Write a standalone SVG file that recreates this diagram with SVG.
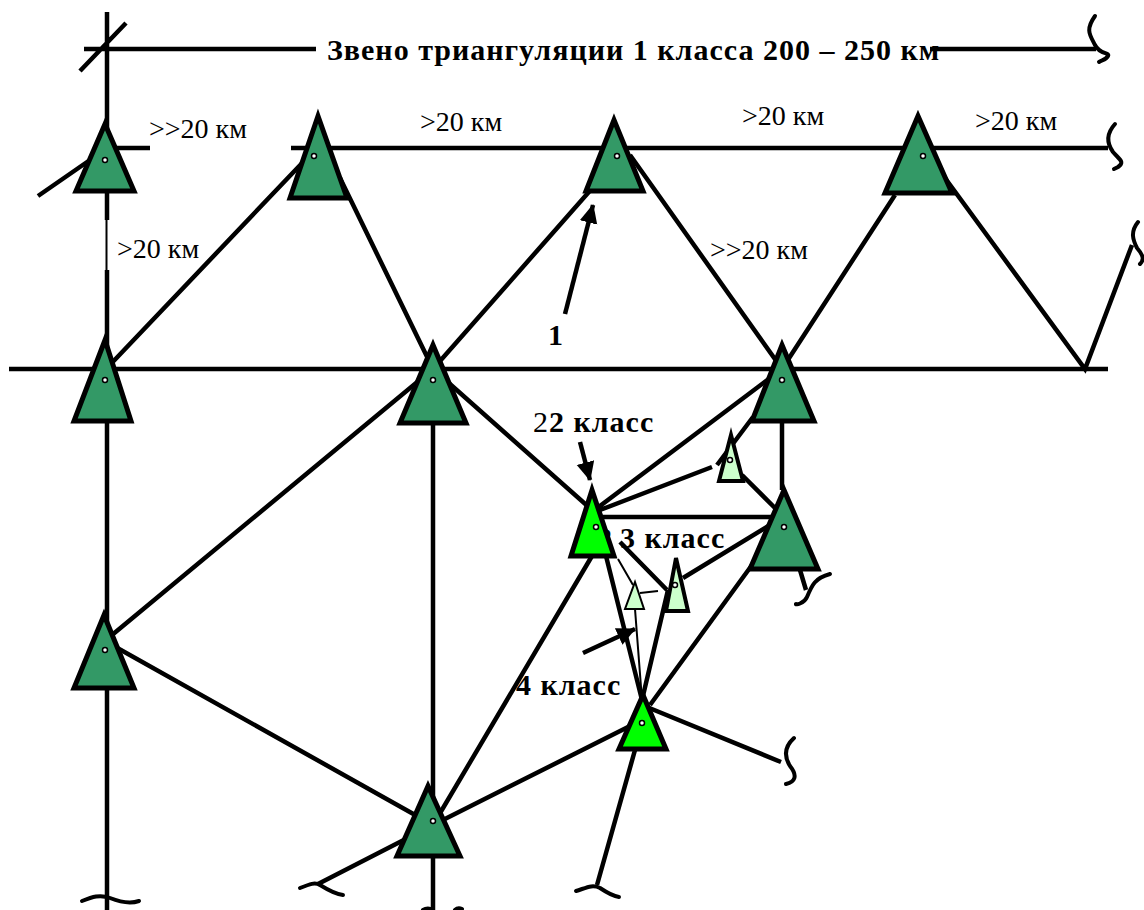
<svg xmlns="http://www.w3.org/2000/svg" width="1144" height="910" viewBox="0 0 1144 910">
<style>
.l{stroke:#000;stroke-width:4.500;fill:none}
.t{stroke:#000;stroke-width:2;fill:none}
.s{stroke:#000;stroke-width:4;fill:none;stroke-linecap:round}
.dk{fill:#339966;stroke:#000;stroke-width:5;stroke-linejoin:miter}
.br{fill:#00ff00;stroke:#000;stroke-width:5}
.lt{fill:#ccffcc;stroke:#000;stroke-width:4}
.dot{fill:#fff;stroke:#000;stroke-width:1.500}
text{font-family:"Liberation Serif","Times New Roman",serif;fill:#000}
.n{font-size:28px}
.b{font-size:30px;font-weight:bold;letter-spacing:1px}
</style>
<defs><marker id="a" markerWidth="22" markerHeight="22" refX="18" refY="9" orient="auto" markerUnits="userSpaceOnUse"><path d="M0 0L19 9L0 18z" fill="#000"/></marker></defs>
<g id="connectors">
<path class="l" d="M107 12V220M107 270V910M84 49H316M930 49H1096M80 71L126 23M116 148H150M291 148H1108M9 369H1108"/>
<path class="t" d="M106.500 220V270"/>
<path class="l" d="M38 196L90 160M107 368L305 160M340 178L433 369M433 369L595 185M630 155L782 369M782 369L895 195M945 178L1085 369L1132 245"/>
<path class="l" d="M112 635L433 369M433 369L592 510M782 369L592 512M433 369V910M782 369V490M592 517H784M600 510L712 467M717 465L753 417M742 475L775 508M683 578L770 525M620 542L667 590"/>
<path class="t" d="M618 559L633 585M640 593L658 591M635 609L642 700"/>
<path class="l" d="M668 590L642 700M606 556L642 700M752 565L650 705M433 825L642 720M592 556L433 825M112 645L433 825M433 825L318 884M635 750L597 885M642 705L781 762M800 570L806 590"/>
<path class="s" d="M1095 16C1085 30 1090 35 1095 45C1100 55 1110 52 1108 56C1106 60 1102 60 1099 62"/>
<path class="s" d="M1115 124C1105 135 1108 145 1113 152C1120 160 1125 162 1118 167L1114 169"/>
<path class="s" d="M1138 222C1130 232 1133 240 1137 248C1144 256 1144 260 1140 264"/>
<path class="s" d="M830 574C815 578 812 585 807 597C804 604 795 605 796 604"/>
<path class="s" d="M794 738C783 748 785 758 790 766C798 776 795 782 786 784"/>
<path class="s" d="M300 888C310 884 315 882 320 885C328 890 335 894 343 895"/>
<path class="s" d="M576 891C586 888 592 884 600 888C606 892 612 896 619 897"/>
<path class="s" d="M82 901C92 897 100 894 110 898C120 902 130 904 139 901"/>
<path class="s" d="M423 910C426 908 430 908 432 910M455 910C457 908 460 908 462 909"/>
<path class="l" d="M565 314L593 205" marker-end="url(#a)"/>
<path class="l" d="M580 442L590 480" marker-end="url(#a)"/>
<path class="l" d="M583 653L635 629" marker-end="url(#a)"/>
</g>
<text class="b" x="597" y="548">2</text>
<g id="n1"><polygon class="dk" points="105,124 134,191 76,191"/><circle class="dot" cx="105" cy="160" r="2.500"/></g>
<g id="n2"><polygon class="dk" points="318,116 347,198 290,198"/><circle class="dot" cx="314" cy="156" r="2.500"/></g>
<g id="n3"><polygon class="dk" points="614,120 643,191 586,191"/><circle class="dot" cx="617" cy="156" r="2.500"/></g>
<g id="n4"><polygon class="dk" points="918,116 952,193 885,193"/><circle class="dot" cx="923" cy="156" r="2.500"/></g>
<g id="n5"><polygon class="dk" points="105,340 131,421 74,421"/><circle class="dot" cx="105" cy="380" r="2.500"/></g>
<g id="n6"><polygon class="dk" points="433,345 466,423 400,423"/><circle class="dot" cx="433" cy="380" r="2.500"/></g>
<g id="n7"><polygon class="dk" points="782,345 814,421 752,421"/><circle class="dot" cx="782" cy="380" r="2.500"/></g>
<g id="n8"><polygon class="dk" points="784,490 818,569 750,569"/><circle class="dot" cx="784" cy="527" r="2.500"/></g>
<g id="n9"><polygon class="dk" points="104,615 134,688 74,688"/><circle class="dot" cx="105" cy="650" r="2.500"/></g>
<g id="n10"><polygon class="dk" points="428,786 460,856 397,856"/><circle class="dot" cx="433" cy="821" r="2.500"/></g>
<g id="n11"><polygon class="br" points="592,490 614,556 571,556"/><circle class="dot" cx="596" cy="527" r="2.500"/></g>
<g id="n12"><polygon class="br" points="643,695 666,749 619,749"/><circle class="dot" cx="642" cy="723" r="2.500"/></g>
<g id="n13"><polygon class="lt" points="731,435 743,481 719,481"/><circle class="dot" cx="730" cy="460" r="2.500"/></g>
<g id="n14"><polygon class="lt" points="676,558 688,611 666,611"/><circle class="dot" cx="675" cy="585" r="2.500"/></g>
<g id="n15"><polygon class="lt" style="stroke-width:2" points="635,582 644,609 625,609"/></g>
<g id="labels">
<text class="b" x="327" y="60">Звено триангуляции 1 класса 200 – 250 км</text>
<text class="n" x="149" y="138">&gt;&gt;20 км</text>
<text class="n" x="420" y="131">&gt;20 км</text>
<text class="n" x="742" y="125">&gt;20 км</text>
<text class="n" x="975" y="130">&gt;20 км</text>
<text class="n" x="117" y="258">&gt;20 км</text>
<text class="n" x="710" y="259">&gt;&gt;20 км</text>
<text class="b" x="548" y="345">1</text>
<text class="b" x="533" y="432"><tspan font-weight="normal">2</tspan>2 класс</text>
<text class="b" x="620" y="548">3 класс</text>
<text class="b" x="516" y="695">4 класс</text>
</g>
</svg>
